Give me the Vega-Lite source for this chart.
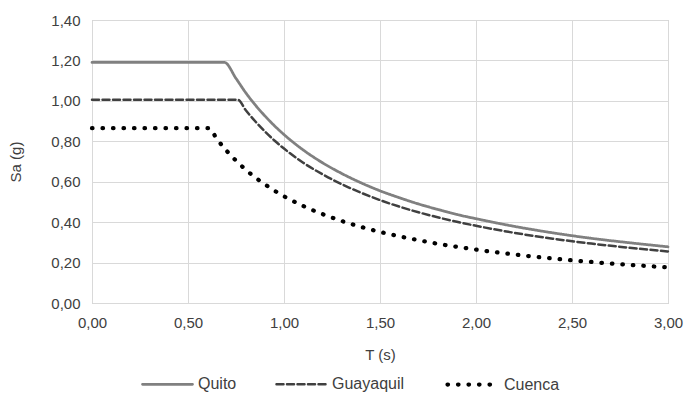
{
  "$schema": "https://vega.github.io/schema/vega-lite/v6.json",
  "autosize": {"type": "none"},
  "width": 576,
  "height": 283,
  "padding": {"left": 92, "top": 20, "right": 21, "bottom": 103},
  "config": {
    "locale": {"number": {"decimal": ",", "thousands": ".", "grouping": [3], "currency": ["", " €"]}},
    "font": "Liberation Sans",
    "view": {"stroke": "#bfbfbf", "strokeWidth": 1},
    "axis": {"labelFont": "Liberation Sans", "titleFont": "Liberation Sans", "labelFontSize": 15, "titleFontSize": 15, "labelColor": "#404040", "titleColor": "#404040", "titleFontWeight": "normal", "gridColor": "#d9d9d9", "gridWidth": 1, "domain": false, "ticks": false, "labelFlush": false},
    "legend": {"labelFont": "Liberation Sans", "labelFontSize": 16, "labelColor": "#404040"}
  },
  "data": {"values": [
    {"Ciudad": "Quito", "T": 0.00, "Sa": 1.19},
    {"Ciudad": "Quito", "T": 0.69, "Sa": 1.19},
    {"Ciudad": "Quito", "T": 0.75, "Sa": 1.111},
    {"Ciudad": "Quito", "T": 0.80, "Sa": 1.041},
    {"Ciudad": "Quito", "T": 0.85, "Sa": 0.980},
    {"Ciudad": "Quito", "T": 0.90, "Sa": 0.926},
    {"Ciudad": "Quito", "T": 0.95, "Sa": 0.877},
    {"Ciudad": "Quito", "T": 1.00, "Sa": 0.833},
    {"Ciudad": "Quito", "T": 1.10, "Sa": 0.757},
    {"Ciudad": "Quito", "T": 1.20, "Sa": 0.694},
    {"Ciudad": "Quito", "T": 1.30, "Sa": 0.641},
    {"Ciudad": "Quito", "T": 1.40, "Sa": 0.595},
    {"Ciudad": "Quito", "T": 1.50, "Sa": 0.555},
    {"Ciudad": "Quito", "T": 1.60, "Sa": 0.521},
    {"Ciudad": "Quito", "T": 1.70, "Sa": 0.490},
    {"Ciudad": "Quito", "T": 1.80, "Sa": 0.463},
    {"Ciudad": "Quito", "T": 1.90, "Sa": 0.438},
    {"Ciudad": "Quito", "T": 2.00, "Sa": 0.417},
    {"Ciudad": "Quito", "T": 2.20, "Sa": 0.379},
    {"Ciudad": "Quito", "T": 2.40, "Sa": 0.347},
    {"Ciudad": "Quito", "T": 2.60, "Sa": 0.320},
    {"Ciudad": "Quito", "T": 2.80, "Sa": 0.298},
    {"Ciudad": "Quito", "T": 3.00, "Sa": 0.278},
    {"Ciudad": "Guayaquil", "T": 0.00, "Sa": 1.005},
    {"Ciudad": "Guayaquil", "T": 0.76, "Sa": 1.005},
    {"Ciudad": "Guayaquil", "T": 0.80, "Sa": 0.955},
    {"Ciudad": "Guayaquil", "T": 0.85, "Sa": 0.899},
    {"Ciudad": "Guayaquil", "T": 0.90, "Sa": 0.849},
    {"Ciudad": "Guayaquil", "T": 0.95, "Sa": 0.804},
    {"Ciudad": "Guayaquil", "T": 1.00, "Sa": 0.764},
    {"Ciudad": "Guayaquil", "T": 1.10, "Sa": 0.694},
    {"Ciudad": "Guayaquil", "T": 1.20, "Sa": 0.637},
    {"Ciudad": "Guayaquil", "T": 1.30, "Sa": 0.588},
    {"Ciudad": "Guayaquil", "T": 1.40, "Sa": 0.546},
    {"Ciudad": "Guayaquil", "T": 1.50, "Sa": 0.509},
    {"Ciudad": "Guayaquil", "T": 1.60, "Sa": 0.477},
    {"Ciudad": "Guayaquil", "T": 1.70, "Sa": 0.449},
    {"Ciudad": "Guayaquil", "T": 1.80, "Sa": 0.424},
    {"Ciudad": "Guayaquil", "T": 1.90, "Sa": 0.402},
    {"Ciudad": "Guayaquil", "T": 2.00, "Sa": 0.382},
    {"Ciudad": "Guayaquil", "T": 2.20, "Sa": 0.347},
    {"Ciudad": "Guayaquil", "T": 2.40, "Sa": 0.318},
    {"Ciudad": "Guayaquil", "T": 2.60, "Sa": 0.294},
    {"Ciudad": "Guayaquil", "T": 2.80, "Sa": 0.273},
    {"Ciudad": "Guayaquil", "T": 3.00, "Sa": 0.255},
    {"Ciudad": "Cuenca", "T": 0.00, "Sa": 0.865},
    {"Ciudad": "Cuenca", "T": 0.61, "Sa": 0.865},
    {"Ciudad": "Cuenca", "T": 0.65, "Sa": 0.812},
    {"Ciudad": "Cuenca", "T": 0.70, "Sa": 0.754},
    {"Ciudad": "Cuenca", "T": 0.75, "Sa": 0.704},
    {"Ciudad": "Cuenca", "T": 0.80, "Sa": 0.660},
    {"Ciudad": "Cuenca", "T": 0.85, "Sa": 0.621},
    {"Ciudad": "Cuenca", "T": 0.90, "Sa": 0.587},
    {"Ciudad": "Cuenca", "T": 0.95, "Sa": 0.556},
    {"Ciudad": "Cuenca", "T": 1.00, "Sa": 0.528},
    {"Ciudad": "Cuenca", "T": 1.10, "Sa": 0.480},
    {"Ciudad": "Cuenca", "T": 1.20, "Sa": 0.440},
    {"Ciudad": "Cuenca", "T": 1.30, "Sa": 0.406},
    {"Ciudad": "Cuenca", "T": 1.40, "Sa": 0.377},
    {"Ciudad": "Cuenca", "T": 1.50, "Sa": 0.352},
    {"Ciudad": "Cuenca", "T": 1.60, "Sa": 0.330},
    {"Ciudad": "Cuenca", "T": 1.70, "Sa": 0.311},
    {"Ciudad": "Cuenca", "T": 1.80, "Sa": 0.293},
    {"Ciudad": "Cuenca", "T": 1.90, "Sa": 0.278},
    {"Ciudad": "Cuenca", "T": 2.00, "Sa": 0.264},
    {"Ciudad": "Cuenca", "T": 2.20, "Sa": 0.240},
    {"Ciudad": "Cuenca", "T": 2.40, "Sa": 0.220},
    {"Ciudad": "Cuenca", "T": 2.60, "Sa": 0.203},
    {"Ciudad": "Cuenca", "T": 2.80, "Sa": 0.189},
    {"Ciudad": "Cuenca", "T": 3.00, "Sa": 0.176}
  ]},
  "mark": {"type": "line", "interpolate": "monotone", "strokeCap": "round"},
  "encoding": {
    "x": {"field": "T", "type": "quantitative", "scale": {"domain": [0, 3], "nice": false},
      "axis": {"values": [0, 0.5, 1, 1.5, 2, 2.5, 3], "format": ".2f", "title": "T (s)", "labelPadding": 12, "titlePadding": 17}},
    "y": {"field": "Sa", "type": "quantitative", "scale": {"domain": [0, 1.4], "nice": false},
      "axis": {"values": [0, 0.2, 0.4, 0.6, 0.8, 1.0, 1.2, 1.4], "format": ".2f", "title": "Sa (g)", "labelPadding": 12, "titlePadding": 27}},
    "color": {"field": "Ciudad", "type": "nominal",
      "scale": {"domain": ["Quito", "Guayaquil", "Cuenca"], "range": ["#808080", "#404040", "#000000"]},
      "legend": {"title": null, "orient": "none", "direction": "horizontal", "legendX": 49, "legendY": 337, "symbolType": "stroke", "symbolSize": 2500, "columnPadding": 34, "labelOffset": 4,
        "encode": {"symbols": {"update": {"strokeCap": {"value": "round"}}}}}},
    "strokeDash": {"field": "Ciudad", "type": "nominal",
      "scale": {"domain": ["Quito", "Guayaquil", "Cuenca"], "range": [[1, 0], [7, 3.5], [0.5, 10]]},
      "legend": {"title": null, "orient": "none", "direction": "horizontal", "legendX": 49, "legendY": 337, "symbolType": "stroke", "symbolSize": 2500, "columnPadding": 34, "labelOffset": 4,
        "encode": {"symbols": {"update": {"strokeCap": {"value": "round"}}}}}},
    "strokeWidth": {"field": "Ciudad", "type": "nominal",
      "scale": {"type": "ordinal", "domain": ["Quito", "Guayaquil", "Cuenca"], "range": [2.75, 2.5, 4.25]},
      "legend": {"title": null, "orient": "none", "direction": "horizontal", "legendX": 49, "legendY": 337, "symbolType": "stroke", "symbolSize": 2500, "columnPadding": 34, "labelOffset": 4,
        "encode": {"symbols": {"update": {"strokeCap": {"value": "round"}}}}}}
  }
}
